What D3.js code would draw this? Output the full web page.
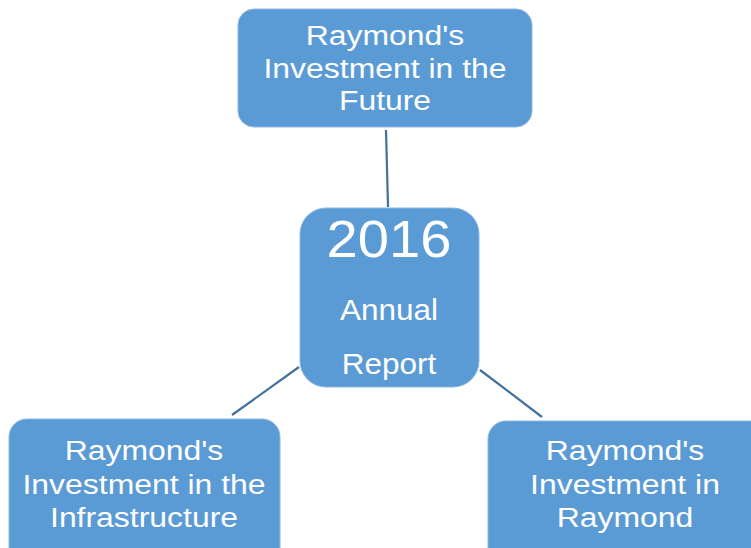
<!DOCTYPE html>
<html>
<head>
<meta charset="utf-8">
<script src="https://cdn.jsdelivr.net/npm/d3@7"></script>
<style>
  html, body { margin: 0; padding: 0; background: #ffffff; }
  svg { display: block; }
</style>
</head>
<body>
<script>
// ---- data ----
const nodeIds = ["center", "top", "left", "right"];
const nodeLabels = [
  ["2016", "Annual", "Report"],
  ["Raymond's", "Investment in the", "Future"],
  ["Raymond's", "Investment in the", "Infrastructure"],
  ["Raymond's", "Investment in", "Raymond"]
];
const links = [["center", "top"], ["center", "left"], ["center", "right"]];

// ---- layout (pixel geometry) ----
const W = 751, H = 548;
const boxes = {
  top:    { x: 238, y: 9,   w: 294, h: 118, r: 16 },
  center: { x: 300, y: 208, w: 179, h: 179, r: 26 },
  left:   { x: 9,   y: 419, w: 271, h: 150, r: 18 },
  right:  { x: 488, y: 421, w: 290, h: 150, r: 18 }
};
const linkEnds = {
  top:   [[388, 207], [386, 130]],
  left:  [[299, 367], [232, 415]],
  right: [[480, 370], [542, 417]]
};
const textStyle = {
  top:    { cx: 385, baselines: [45, 78, 110], sizes: [28, 28, 28], sx: [1.14, 1.14, 1.14] },
  center: { cx: 389, baselines: [257, 320, 374], sizes: [51, 30, 30], sx: [1.1, 1.05, 1.05] },
  left:   { cx: 144, baselines: [460, 494, 527], sizes: [28, 28, 28], sx: [1.14, 1.14, 1.14] },
  right:  { cx: 625, baselines: [460, 494, 527], sizes: [28, 28, 28], sx: [1.14, 1.14, 1.14] }
};

const svg = d3.select("body").append("svg")
  .attr("width", W).attr("height", H);

// links
svg.append("g").selectAll("line")
  .data(links)
  .join("line")
  .attr("x1", d => linkEnds[d[1]][0][0])
  .attr("y1", d => linkEnds[d[1]][0][1])
  .attr("x2", d => linkEnds[d[1]][1][0])
  .attr("y2", d => linkEnds[d[1]][1][1])
  .attr("stroke", "#41719c")
  .attr("stroke-width", 2.2);

// nodes
const nodes = nodeIds.map((id, i) => ({ id, lines: nodeLabels[i] }));
const g = svg.append("g").selectAll("g")
  .data(nodes)
  .join("g");

g.append("rect")
  .attr("x", d => boxes[d.id].x)
  .attr("y", d => boxes[d.id].y)
  .attr("width", d => boxes[d.id].w)
  .attr("height", d => boxes[d.id].h)
  .attr("rx", d => boxes[d.id].r)
  .attr("ry", d => boxes[d.id].r)
  .attr("fill", "#5b9bd5")
  .attr("stroke", "#8ab8e3")
  .attr("stroke-width", 1);

g.each(function(d) {
  const ts = textStyle[d.id];
  d3.select(this).selectAll("text")
    .data(d.lines)
    .join("text")
    .attr("transform", (t, i) => `translate(${ts.cx},${ts.baselines[i]}) scale(${ts.sx[i]},1)`)
    .attr("text-anchor", "middle")
    .attr("font-family", "'Liberation Sans', Arial, sans-serif")
    .attr("font-size", (t, i) => ts.sizes[i])
    .attr("fill", "#ffffff")
    .text(t => t);
});
</script>
</body>
</html>
